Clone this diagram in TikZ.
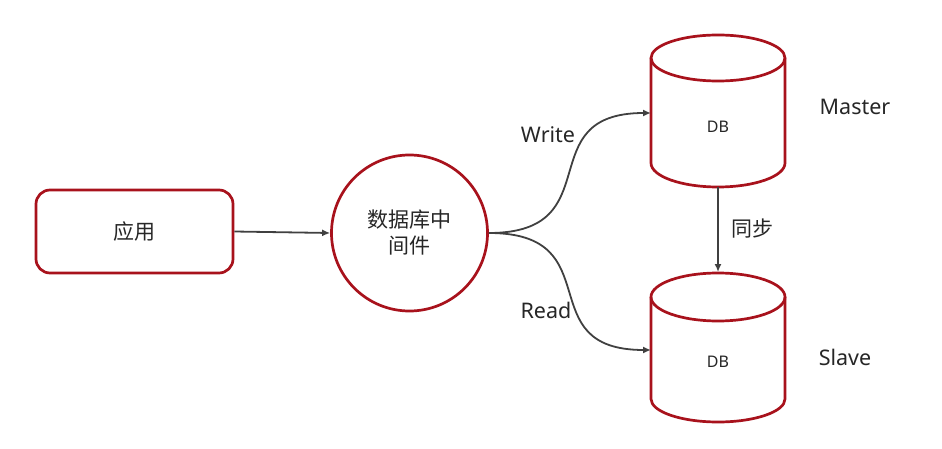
\documentclass[tikz,border=0pt]{standalone}
\usepackage{fontspec}
\setmainfont{Noto Sans}
\newfontfamily\cjk{Noto Sans CJK SC}
\usetikzlibrary{arrows.meta,shapes.geometric}
\definecolor{dbred}{HTML}{A8121C}
\definecolor{lnk}{HTML}{404040}
\tikzset{
  redline/.style={draw=dbred,line width=2.7pt},
  conn/.style={draw=lnk,line width=1.8pt,-{Latex[length=8pt,width=7pt]}},
  lbl/.style={font=\fontsize{21.5}{24}\selectfont,text=black!85},
  cjklbl/.style={font=\cjk\fontsize{21}{25}\selectfont,text=black!85,align=center},
  dblbl/.style={font=\fontsize{16}{18}\selectfont,text=black!85}
}
\begin{document}
\begin{tikzpicture}[x=1pt,y=-1pt]
\useasboundingbox (0,0) rectangle (942,449);
% app box
\node[redline,rounded corners=14pt,minimum width=197pt,minimum height=83pt,cjklbl] (app) at (134.5,231.5) {应用};
% middleware circle
\node[redline,circle,minimum size=156pt,inner sep=0pt,cjklbl,font=\cjk\fontsize{21}{26}\selectfont] (mw) at (409.5,233) {数据库中\\间件};
% master cylinder
\path[redline,fill=white] (651,58) -- (651,163) arc[start angle=180,end angle=360,x radius=67,y radius=-24] -- (785,58) arc[start angle=0,end angle=180,x radius=67,y radius=-23] -- cycle;
\draw[redline] (651,58) arc[start angle=180,end angle=360,x radius=67,y radius=-23];
\coordinate (mL) at (651,113);
\coordinate (mB) at (718,187);
\node[dblbl] (mdb) at (718,127) {DB};
% slave cylinder
\path[redline,fill=white] (651,297) -- (651,399) arc[start angle=180,end angle=360,x radius=67,y radius=-23] -- (785,297) arc[start angle=0,end angle=180,x radius=67,y radius=-24] -- cycle;
\draw[redline] (651,297) arc[start angle=180,end angle=360,x radius=67,y radius=-24];
\coordinate (sL) at (651,350);
\coordinate (sT) at (718,272);
\node[dblbl] (sdb) at (718,362) {DB};
% labels
\node[lbl] (master) at (855,107) {Master};
\node[lbl] (slave) at (845,357) {Slave};
\node[lbl] (write) at (548,135) {Write};
\node[lbl] (read) at (546,310) {Read};
\node[cjklbl] (sync) at (752,229) {同步};
% connectors
\draw[conn] (mw.east) .. controls (612,233) and (528,113) .. (mL);
\draw[conn] (mw.east) .. controls (612,233) and (528,350) .. (sL);
\draw[conn] (app.east) -- (mw.west);
\draw[conn] (mB) -- (sT);
\end{tikzpicture}
\end{document}
